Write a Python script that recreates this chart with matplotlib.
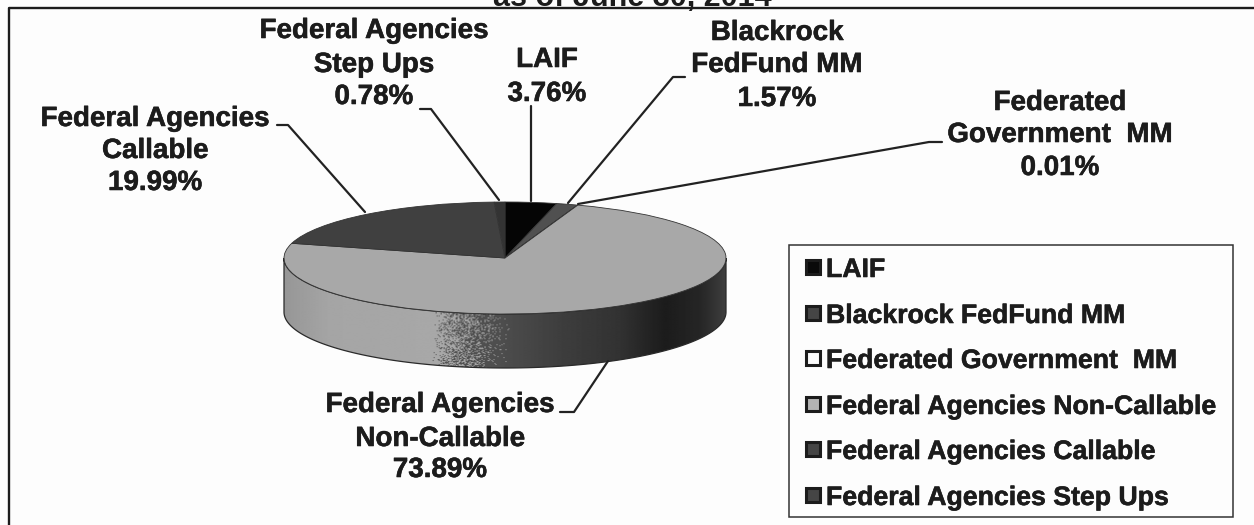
import matplotlib
matplotlib.use("Agg")
import matplotlib.pyplot as plt
import matplotlib.patheffects as pe
import numpy as np
from matplotlib.patches import Wedge, Rectangle, Polygon
from matplotlib.transforms import Affine2D

plt.rcParams["font.family"] = ["Liberation Sans", "DejaVu Sans"]

# portfolio composition, in drawing order clockwise from 12 o'clock
names = ["LAIF", "Blackrock FedFund MM", "Federated Government  MM",
         "Federal Agencies Non-Callable", "Federal Agencies Callable",
         "Federal Agencies Step Ups"]
shares = [3.76, 1.57, 0.01, 73.89, 19.99, 0.78]
title_line = "as of June 30, 2014"

# callout wording, same order as the shares
callouts = [["LAIF"], ["Blackrock", "FedFund MM"], ["Federated", "Government  MM"],
            ["Federal Agencies", "Non-Callable"], ["Federal Agencies", "Callable"],
            ["Federal Agencies", "Step Ups"]]

top_colors = ["#050505", "#505050", "#f0f0f0", "#a8a8a8", "#404040", "#333333"]
legend_colors = ["#0a0a0a", "#454545", "#fafafa", "#b4b4b4", "#454545", "#454545"]

# centre x and line y positions for each callout
label_x = [547, 777, 1060, 440, 155, 374]
label_y = [[57, 91], [30, 62, 96], [100, 132, 165], [402, 436, 467],
           [116, 148, 180], [28, 62, 94]]
# leader lines
leaders = [[(531, 106), (531, 201)],
           [(685, 77), (673, 77), (568, 203)],
           [(942, 142), (929, 142), (578, 204)],
           [(560, 412), (574, 412), (608, 361)],
           [(277, 125), (288, 125), (365, 212)],
           [(420, 109), (431, 109), (499, 200)]]

W, H = 1254, 525
INK = "#1c1c1c"
heavy = [pe.withStroke(linewidth=0.4, foreground=INK)]

fig = plt.figure(figsize=(W / 100, H / 100), dpi=100, facecolor="#fdfdfd")
ax = fig.add_axes([0, 0, 1, 1])
ax.axis("off")

# only the top and left rules of the outer frame are on the page
ax.plot([9, 9, W], [H, 8, 8], color=INK, lw=1.7, zorder=1)
ax.text(632, 6, title_line, ha="center", va="baseline", fontsize=22, fontweight="bold",
        color=INK, zorder=1)

# pie geometry
cx, cy, a, b, depth = 505, 258, 221, 56, 54

# side wall: shaded strip clipped to the lower half of the ellipse
xs = np.arange(cx - a, cx + a + 1)
ys = np.arange(cy, cy + b + depth + 2)
gx, gy = np.meshgrid(xs, ys)
light = np.interp(gx, [283, 330, 440, 500], [150, 165, 168, 160])
dark = np.interp(gx, [430, 500, 560, 620, 665, 700, 725], [85, 78, 62, 50, 28, 38, 62])
mix = np.interp(gx, [432, 446, 496, 512], [0, 0.3, 0.92, 1])
# fixed stipple where the light part of the wall turns dark
grain = (np.sin(gx * 12.9898 + gy * 78.233) * 43758.5453) % 1
shade = np.where(grain < mix, dark, light)
im = ax.imshow(shade, cmap="gray", vmin=0, vmax=255, extent=(xs[0], xs[-1], ys[-1], ys[0]),
               aspect="auto", zorder=2, interpolation="bilinear")
t = np.linspace(0, np.pi, 200)
wall = np.r_[np.c_[cx + a * np.cos(t), cy + depth + b * np.sin(t)],
             np.c_[cx + a * np.cos(t[::-1]), cy + b * np.sin(t[::-1])]]
wall_patch = Polygon(wall, closed=True, facecolor="none", edgecolor="#2a2a2a", lw=0.9, zorder=3)
ax.add_patch(wall_patch)
im.set_clip_path(wall_patch)

# top face, flattened wedges
squash = Affine2D().scale(1, -b / a).translate(cx, cy) + ax.transData
start = 90.0
for share, color in zip(shares, top_colors):
    sweep = share / sum(shares) * 360
    ax.add_patch(Wedge((0, 0), a, start - sweep, start, facecolor=color, edgecolor="#333333",
                       lw=0.6, transform=squash, zorder=4))
    start -= sweep

# leaders and callouts
for pts in leaders:
    px, py = zip(*pts)
    ax.plot(px, py, color="#222222", lw=1.6, zorder=5, solid_capstyle="round")
for lines, share, x, ys_text in zip(callouts, shares, label_x, label_y):
    for line, y in zip(lines + [f"{share:.2f}%"], ys_text):
        ax.text(x, y, line, ha="center", va="center_baseline", fontsize=20, fontweight="bold",
                color=INK, zorder=6, path_effects=heavy)

# legend box
ax.add_patch(Rectangle((789, 245), 444, 272, facecolor="#fdfdfd", edgecolor="#333333", lw=1.1, zorder=5))
row_y = [267, 313, 358, 404, 449, 495]
for name, color, y in zip(names, legend_colors, row_y):
    ax.add_patch(Rectangle((805.5, y - 7), 14, 14, facecolor=color, edgecolor=INK, lw=2.2, zorder=6))
    ax.text(826, y, name, ha="left", va="center_baseline", fontsize=19.2, fontweight="bold",
            color=INK, zorder=6, path_effects=heavy)

ax.set_xlim(0, W)
ax.set_ylim(H, 0)
fig.savefig("out.png", dpi=100)
